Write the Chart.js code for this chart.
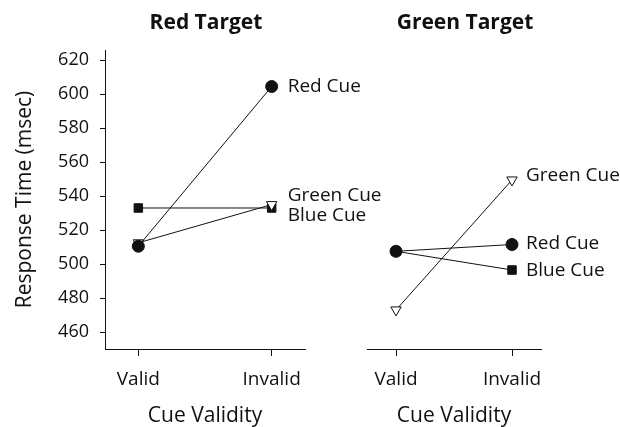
<!DOCTYPE html>
<html>
<head>
<meta charset="utf-8">
<script src="https://cdn.jsdelivr.net/npm/chart.js@4.4.1/dist/chart.umd.min.js"></script>
<style>
  html, body { margin: 0; padding: 0; background: #fff; }
  #wrap { position: relative; width: 620px; height: 427px; overflow: hidden; }
  #left { position: absolute; left: 0; top: 0; }
  #right { position: absolute; left: 360px; top: 0; }
</style>
</head>
<body>
<div id="wrap">
  <canvas id="left" width="390" height="427"></canvas>
  <canvas id="right" width="260" height="427"></canvas>
</div>
<script>
const categories = ['Valid', 'Invalid'];
const yTicks = [460, 480, 500, 520, 540, 560, 580, 600, 620];

// Red Target panel
const redTargetRedCue = [510.5, 604.5];
const redTargetGreenCue = [512.5, 535];
const redTargetBlueCue = [533, 533];

// Green Target panel
const greenTargetRedCue = [507.5, 511.5];
const greenTargetGreenCue = [473, 549.5];
const greenTargetBlueCue = [507.5, 496.5];

const FONT = "'Open Sans', sans-serif";

const toPoints = (vals) => vals.map((v, i) => ({ x: i, y: v }));

const lineLabels = {
  id: 'lineLabels',
  afterDatasetsDraw(chart) {
    const ctx = chart.ctx;
    ctx.save();
    ctx.font = '19px ' + FONT;
    ctx.fillStyle = '#111';
    ctx.textBaseline = 'middle';
    ctx.textAlign = 'left';
    chart.data.datasets.forEach((ds, i) => {
      const pts = chart.getDatasetMeta(i).data;
      const p = pts[pts.length - 1];
      ctx.fillText(ds.label, p.x + ds.labelDx, p.y + ds.labelDy);
    });
    ctx.restore();
  }
};

const panelTitle = {
  id: 'panelTitle',
  afterDraw(chart, args, opts) {
    const ctx = chart.ctx;
    const a = chart.chartArea;
    ctx.save();
    ctx.font = 'bold 21px ' + FONT;
    ctx.fillStyle = '#111';
    ctx.textAlign = 'center';
    ctx.textBaseline = 'middle';
    ctx.fillText(opts.text, (a.left + a.right) / 2 + (opts.dx || 0), 23);
    ctx.restore();
  }
};

const makeSet = (label, vals, style, dy, dx) => {
  const open = style === 'triangle';
  return {
    label: label,
    data: toPoints(vals),
    borderColor: '#111',
    borderWidth: 1,
    pointStyle: style,
    pointRotation: open ? 180 : 0,
    pointRadius: 6,
    pointBackgroundColor: open ? '#fff' : '#111',
    pointBorderColor: '#111',
    pointBorderWidth: 1,
    labelDy: dy,
    labelDx: dx
  };
};

const xScale = () => ({
  type: 'linear',
  min: -0.25,
  max: 1.25,
  afterBuildTicks: (s) => { s.ticks = [{ value: 0 }, { value: 1 }]; },
  afterFit: (s) => { s.height = 78; },
  grid: { display: true, drawOnChartArea: false, drawTicks: true, tickLength: 7, color: '#111', lineWidth: 1 },
  border: { display: true, color: '#111', width: 1 },
  ticks: {
    color: '#111', padding: 12, maxRotation: 0, autoSkip: false, font: { family: FONT, size: 19 },
    callback: (v) => categories[v]
  },
  title: { display: true, text: 'Cue Validity', color: '#111', padding: { top: 0, bottom: -2 }, font: { family: FONT, size: 21 } }
});

const yScale = (show) => ({
  type: 'linear',
  min: 450,
  max: 626,
  display: show,
  afterBuildTicks: (s) => { s.ticks = yTicks.map((v) => ({ value: v })); },
  afterFit: (s) => { if (show) s.width = 105; },
  grid: { display: true, drawOnChartArea: false, drawTicks: true, tickLength: 5, color: '#111', lineWidth: 1 },
  border: { display: true, color: '#111', width: 1 },
  ticks: { color: '#111', padding: 11, font: { family: FONT, size: 18 } },
  title: { display: true, text: 'Response Time (msec)', color: '#111', padding: { top: 12, bottom: 0 }, font: { family: FONT, size: 21 } }
});

const baseOptions = (show, pad, title, titleDx) => ({
  responsive: false,
  animation: false,
  layout: { padding: pad },
  plugins: {
    legend: { display: false },
    tooltip: { enabled: false },
    panelTitle: { text: title, dx: titleDx }
  },
  scales: { x: xScale(), y: yScale(show) }
});

new Chart(document.getElementById('left'), {
  type: 'line',
  data: {
    datasets: [
      makeSet('Red Cue', redTargetRedCue, 'circle', 0, 16),
      makeSet('Green Cue', redTargetGreenCue, 'triangle', -9, 16),
      makeSet('Blue Cue', redTargetBlueCue, 'rect', 8, 16)
    ]
  },
  options: baseOptions(true, { left: 0, right: 85, top: 50, bottom: 0 }, 'Red Target', 1),
  plugins: [lineLabels, panelTitle]
});

new Chart(document.getElementById('right'), {
  type: 'line',
  data: {
    datasets: [
      makeSet('Red Cue', greenTargetRedCue, 'circle', -1, 14),
      makeSet('Green Cue', greenTargetGreenCue, 'triangle', -4, 14),
      makeSet('Blue Cue', greenTargetBlueCue, 'rect', 1, 14)
    ]
  },
  options: baseOptions(false, { left: 7, right: 79, top: 50, bottom: 0 }, 'Green Target', 11),
  plugins: [lineLabels, panelTitle]
});
</script>
</body>
</html>
